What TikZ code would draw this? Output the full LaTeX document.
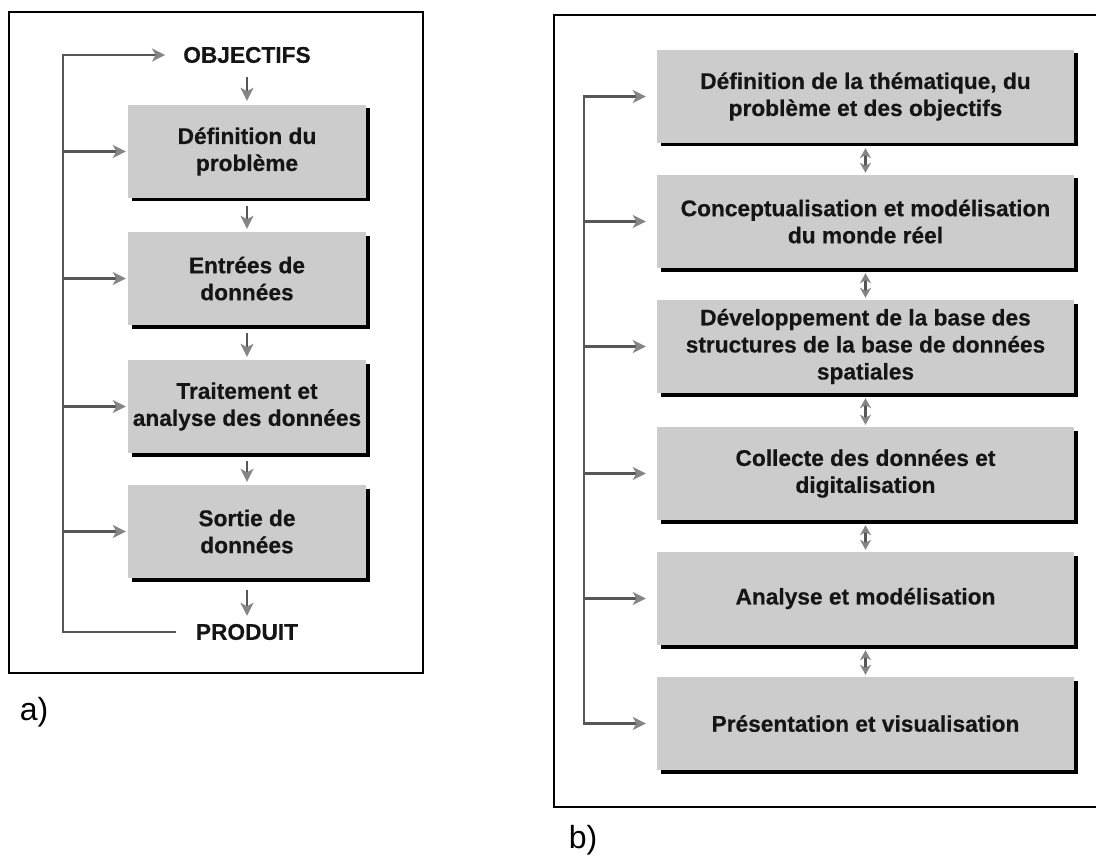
\documentclass[tikz,border=0pt]{standalone}
\usepackage{fontspec}
\setmainfont{Liberation Sans}[BoldFeatures={FakeBold=0.5}]
\usetikzlibrary{arrows.meta,shadows,calc}
\definecolor{boxgray}{HTML}{CCCCCC}
\definecolor{linegray}{HTML}{575757}
\definecolor{tipgray}{HTML}{858585}
\definecolor{txt}{HTML}{151515}
\begin{document}
\begin{tikzpicture}[x=1pt,y=-1pt,
  lbl/.style={font=\fontsize{22.7}{27}\selectfont\bfseries, text=txt, inner sep=0pt, align=center},
  box/.style={lbl, fill=boxgray, minimum height=93pt, general shadow={fill=black, shadow xshift=3.5pt, shadow yshift=-3.5pt}},
  boxa/.style={box, minimum width=238pt},
  boxb/.style={box, minimum width=417pt},
  frame/.style={draw=black, line width=2.6pt},
  conn/.style={draw=linegray, line width=2.8pt},
  arr/.style={conn, -{Stealth[length=13pt,width=13pt,inset=3.5pt,color=tipgray]}},
  darr/.style={draw=linegray, line width=2.2pt, {Stealth[length=10pt,width=11pt,inset=3pt,color=tipgray]}-{Stealth[length=10pt,width=11pt,inset=3pt,color=tipgray]}},
  down/.style={arr, line width=2.2pt},
  tag/.style={font=\fontsize{32}{36}\selectfont, text=black, inner sep=0pt}
]
\useasboundingbox (0,0) rectangle (1096,856);

% ---------- a) ----------
\draw[frame] (9,12) rectangle (423,673);
\node[lbl] (obj) at (247,55) {OBJECTIFS};
\node[boxa] (a1) at (247,151.5) {Définition du\\problème};
\node[boxa] (a2) at (247,278.5) {Entrées de\\données};
\node[boxa] (a3) at (247,406.5) {Traitement et\\analyse des données};
\node[boxa] (a4) at (247,531.5) {Sortie de\\données};
\node[lbl] (prod) at (247,632) {PRODUIT};
\coordinate (fa) at (63,55);

\draw[down, shorten <=14pt, shorten >=4pt] (obj) -- (a1);
\draw[down, shorten <=8pt, shorten >=3pt] (a1) -- (a2);
\draw[down, shorten <=8pt, shorten >=3pt] (a2) -- (a3);
\draw[down, shorten <=8pt, shorten >=3pt] (a3) -- (a4);
\draw[down, shorten <=12pt, shorten >=8pt] (a4) -- (prod);

\draw[arr] ([xshift=-20pt]prod.west) -| (fa) -- ([xshift=-18pt]obj.west);
\foreach \n in {a1,a2,a3,a4}
  \draw[arr, shorten >=2pt] (\n.west -| fa) -- (\n.west);

\node[tag] (la) at (34,712) {a)};

% ---------- b) ----------
\draw[frame] (1100,15) -- (554,15) -- (554,807) -- (1100,807);
\node[boxb] (b1) at (865.5,96.5) {Définition de la thématique, du\\problème et des objectifs};
\node[boxb] (b2) at (865.5,221.5) {Conceptualisation et modélisation\\du monde réel};
\node[boxb] (b3) at (865.5,346.5) {Développement de la base des\\structures de la base de données\\spatiales};
\node[boxb] (b4) at (865.5,473.5) {Collecte des données et\\digitalisation};
\node[boxb] (b5) at (865.5,598.5) {Analyse et modélisation};
\node[boxb] (b6) at (865.5,723.5) {Présentation et visualisation};
\coordinate (fb) at (584,96);

\draw[conn, line cap=rect] (b1.west -| fb) -- (b6.west -| fb);
\foreach \n in {b1,b2,b3,b4,b5,b6}
  \draw[arr, shorten >=11pt] (\n.west -| fb) -- (\n.west);

\draw[darr, shorten <=5pt, shorten >=2pt] (b1) -- (b2);
\draw[darr, shorten <=5pt, shorten >=2pt] (b2) -- (b3);
\draw[darr, shorten <=5pt, shorten >=2pt] (b3) -- (b4);
\draw[darr, shorten <=5pt, shorten >=2pt] (b4) -- (b5);
\draw[darr, shorten <=5pt, shorten >=2pt] (b5) -- (b6);

\node[tag] (lb) at (583,840) {b)};
\end{tikzpicture}
\end{document}
